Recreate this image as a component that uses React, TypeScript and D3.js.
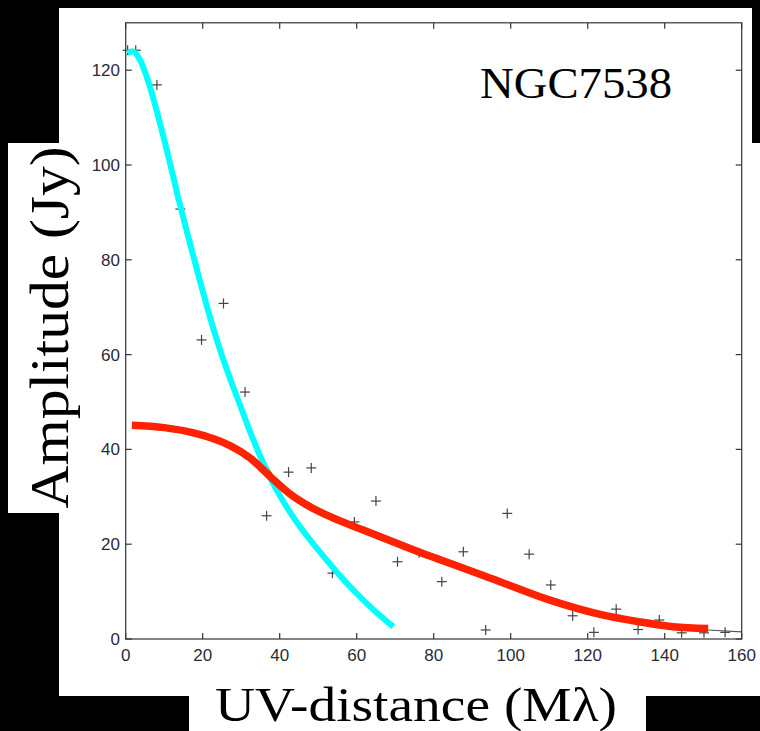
import React from "react";
import * as d3 from "d3";

// ---- data ----
const uvDist = [0.5, 2.6, 8.1, 14.2, 19.7, 25.4, 31.0, 36.6, 42.3, 48.2, 53.7, 59.4, 65.0, 70.6, 76.2, 82.1, 87.7, 93.5, 99.1, 104.8, 110.4, 116.1, 121.6, 127.4, 133.1, 138.6, 144.4, 150.2, 155.7];
const amplitude = [124.2, 124.2, 116.9, 90.7, 63.1, 70.8, 52.1, 26.0, 35.2, 36.1, 13.9, 24.7, 29.1, 16.3, 18.2, 12.1, 18.4, 1.9, 26.5, 17.9, 11.4, 4.9, 1.4, 6.3, 2.0, 4.0, 1.3, 1.3, 1.4];

const cyanX = [0.4, 1.8, 3.7, 6.3, 8.9, 11.5, 13.7, 16.0, 19.3, 22.8, 26.2, 29.5, 33.0, 37.0, 41.0, 45.0, 50.0, 55.0, 60.0, 65.0, 69.5];
const cyanY = [123.6, 124.0, 122.2, 116.5, 108.8, 100.4, 92.9, 85.6, 75.5, 65.4, 57.0, 49.8, 42.3, 34.9, 28.9, 24.0, 18.8, 14.0, 9.6, 5.7, 2.6];

const redX = [1.6, 10, 17.6, 23, 27.1, 32.3, 37.5, 42.7, 47.9, 53.1, 61.7, 70.4, 79.0, 84.2, 97.2, 110.2, 123.2, 133.6, 142.2, 151.3];
const redY = [45.1, 44.6, 43.5, 42.2, 40.8, 38.2, 34.3, 30.6, 27.9, 25.8, 23.0, 20.2, 17.5, 16.0, 12.1, 8.2, 5.2, 3.6, 2.6, 2.2];

const modelX = [0.3, 2, 6.3, 11.5, 16, 22.8, 28, 32, 36, 40, 45, 53, 61.7, 70.4, 79, 97.2, 110.2, 123.2, 133.6, 142.2, 151.3, 160];
const modelY = [124.3, 124.1, 116.6, 100.5, 85.8, 65.5, 52.6, 44.6, 37.6, 32.4, 28.6, 25.3, 22.6, 19.8, 17.1, 11.8, 7.9, 4.9, 3.3, 2.4, 1.9, 1.5];

const xTicks = [0, 20, 40, 60, 80, 100, 120, 140, 160];
const yTicks = [0, 20, 40, 60, 80, 100, 120];

const title = "NGC7538";
const xLabel = "UV-distance (M\u03bb)";
const yLabel = "Amplitude (Jy)";

export default function App() {
  const W = 760, H = 731;
  const x = d3.scaleLinear().domain([0, 160]).range([125.7, 741.7]);
  const y = d3.scaleLinear().domain([0, 130]).range([639, 22.8]);

  const line = d3
    .line<[number, number]>()
    .x((d) => x(d[0]))
    .y((d) => y(d[1]))
    .curve(d3.curveMonotoneX);

  const cyan = line(cyanX.map((v, i) => [v, cyanY[i]] as [number, number])) || "";
  const red = line(redX.map((v, i) => [v, redY[i]] as [number, number])) || "";
  const model = line(modelX.map((v, i) => [v, modelY[i]] as [number, number])) || "";

  const axisColor = "#333";
  const tickLen = 6;
  const labelFont = "'Liberation Sans', Arial, sans-serif";
  const serif = "'Liberation Serif', 'Times New Roman', serif";

  return (
    <svg width={W} height={H} style={{ position: "absolute", left: 0, top: 0, display: "block" }}>
      <rect x={0} y={0} width={W} height={H} fill="#000" />
      {/* white panels */}
      <rect x={59} y={8} width={701} height={688} fill="#fff" />
      <rect x={752} y={0} width={8} height={143} fill="#000" />
      <rect x={8} y={143} width={52} height={370} fill="#fff" />
      <rect x={189} y={695} width={457} height={36} fill="#fff" />

      {/* model curve (thin) */}
      <path d={model} fill="none" stroke="#555" strokeWidth={1.1} />

      {/* data crosses */}
      <g stroke="#444" strokeWidth={1.2}>
        {uvDist.map((v, i) => {
          const cx = x(v), cy = y(amplitude[i]);
          return (
            <g key={i}>
              <line x1={cx - 5} x2={cx + 5} y1={cy} y2={cy} />
              <line x1={cx} x2={cx} y1={cy - 5} y2={cy + 5} />
            </g>
          );
        })}
      </g>

      {/* fitted curves */}
      <path d={cyan} fill="none" stroke="#00ffff" strokeWidth={6} strokeLinecap="butt" />
      <path d={red} fill="none" stroke="#ff2200" strokeWidth={7.5} strokeLinecap="butt" />

      {/* frame */}
      <rect x={x(0)} y={y(130)} width={x(160) - x(0)} height={y(0) - y(130)} fill="none" stroke={axisColor} strokeWidth={1.2} />

      {/* ticks */}
      <g stroke={axisColor} strokeWidth={1.2}>
        {xTicks.map((t) => (
          <g key={"xt" + t}>
            <line x1={x(t)} x2={x(t)} y1={y(0)} y2={y(0) - tickLen} />
            <line x1={x(t)} x2={x(t)} y1={y(130)} y2={y(130) + tickLen} />
          </g>
        ))}
        {yTicks.map((t) => (
          <g key={"yt" + t}>
            <line x1={x(0)} x2={x(0) + tickLen} y1={y(t)} y2={y(t)} />
            <line x1={x(160)} x2={x(160) - tickLen} y1={y(t)} y2={y(t)} />
          </g>
        ))}
      </g>

      {/* tick labels */}
      <g fill="#2b2b38" fontFamily={labelFont} fontSize={17}>
        {xTicks.map((t) => (
          <text key={"xl" + t} x={x(t)} y={661} textAnchor="middle">
            {t}
          </text>
        ))}
        {yTicks.map((t) => (
          <text key={"yl" + t} x={120} y={y(t) + 6} textAnchor="end">
            {t}
          </text>
        ))}
      </g>

      {/* title */}
      <text x={480} y={98} fontFamily={serif} fontSize={45} fill="#000" textLength={192} lengthAdjust="spacingAndGlyphs">
        {title}
      </text>

      {/* axis labels */}
      <text x={215} y={721} fontFamily={serif} fontSize={49} fill="#000" textLength={402} lengthAdjust="spacingAndGlyphs">
        {xLabel}
      </text>
      <text
        transform={`translate(68, ${327.5}) rotate(-90)`}
        x={0}
        y={0}
        textAnchor="middle"
        fontFamily={serif}
        fontSize={54}
        fill="#000"
        textLength={362}
        lengthAdjust="spacingAndGlyphs"
      >
        {yLabel}
      </text>
    </svg>
  );
}
